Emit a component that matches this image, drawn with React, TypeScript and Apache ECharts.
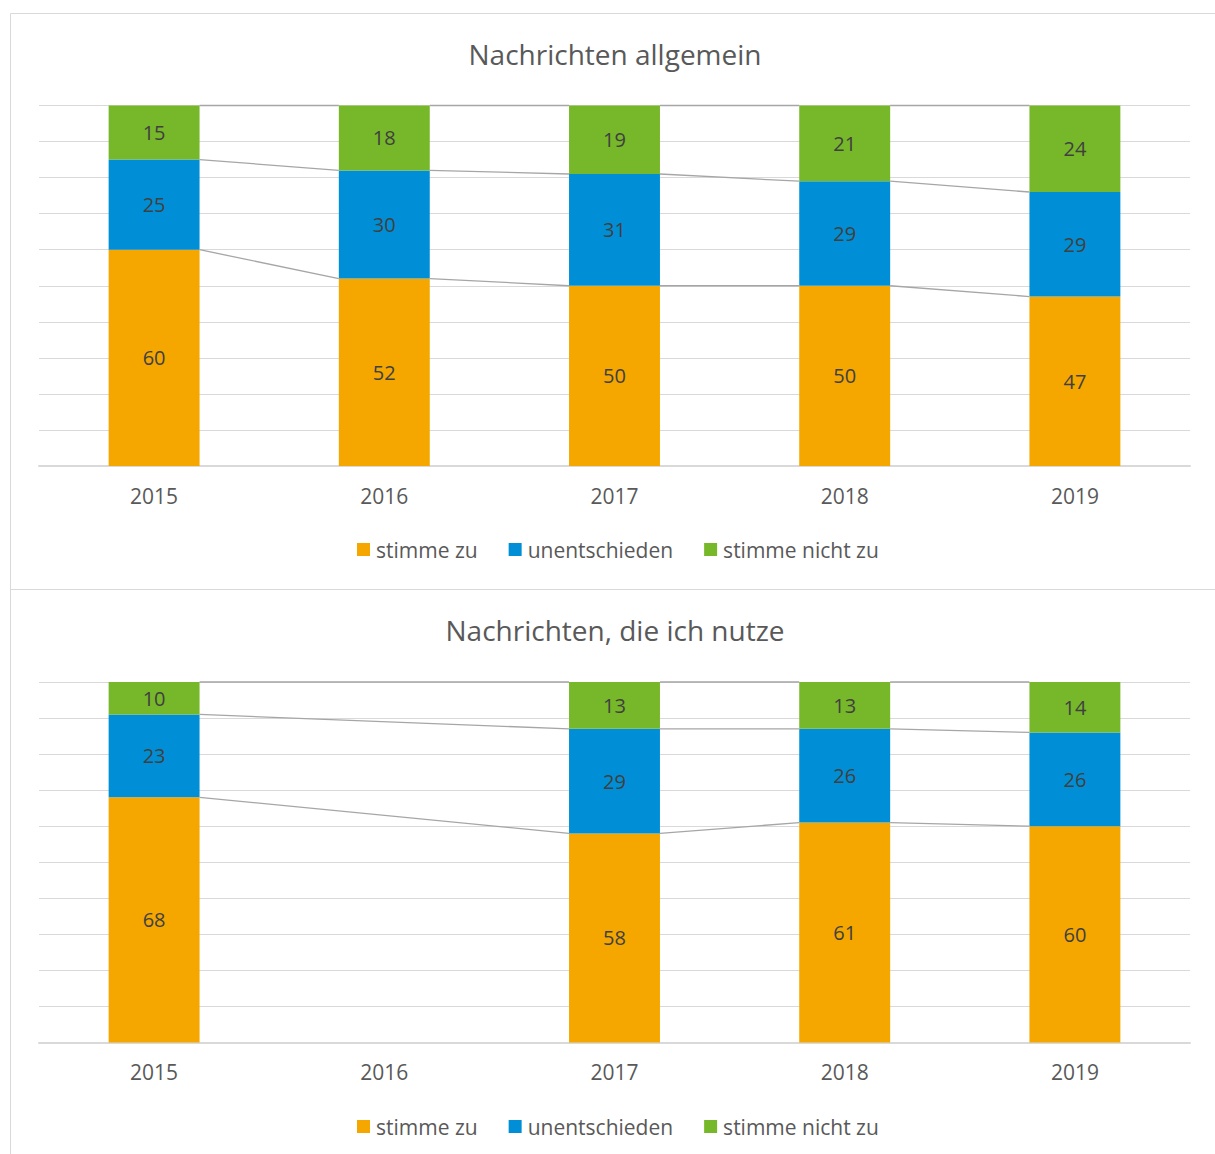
import React, { useEffect, useRef } from "react";
import * as echarts from "echarts";

const years = ["2015", "2016", "2017", "2018", "2019"];
const seriesNames = ["stimme zu", "unentschieden", "stimme nicht zu"];

const allgemeinZu = [60, 52, 50, 50, 47];
const allgemeinUnent = [25, 30, 31, 29, 29];
const allgemeinNicht = [15, 18, 19, 21, 24];

const nutzeZu: (number | null)[] = [68, null, 58, 61, 60];
const nutzeUnent: (number | null)[] = [23, null, 29, 26, 26];
const nutzeNicht: (number | null)[] = [10, null, 13, 13, 14];

const titles = ["Nachrichten allgemein", "Nachrichten, die ich nutze"];
const colors = ["#F5A700", "#008FD6", "#77B82A"];

const FONT = "Open Sans";
const BAR_FRACTION = 0.395;

function seriesLineData(stacks: (number | null)[][]) {
  const avail = years.map((_, i) => i).filter((i) => stacks[0][i] != null);
  const out: number[][] = [];
  for (let k = 0; k < avail.length - 1; k++) {
    const a = avail[k];
    const b = avail[k + 1];
    let ca = 0;
    let cb = 0;
    for (let l = 0; l < stacks.length; l++) {
      ca += stacks[l][a] as number;
      cb += stacks[l][b] as number;
      out.push([a, b, Math.min(ca, 100), Math.min(cb, 100)]);
    }
  }
  return out;
}

export default function App() {
  const ref = useRef<HTMLDivElement>(null);
  useEffect(() => {
    if (!ref.current) return;
    const chart = echarts.init(ref.current, undefined, { renderer: "svg" });
    const stacks = [
      [allgemeinZu, allgemeinUnent, allgemeinNicht],
      [nutzeZu, nutzeUnent, nutzeNicht],
    ];
    const gridTops = [105.5, 682];
    const titleY = [54, 630];
    const legendTop = [539, 1116];

    const series: any[] = [];
    stacks.forEach((st, g) => {
      st.forEach((vals, s) => {
        series.push({
          type: "bar",
          name: seriesNames[s],
          stack: "s" + g,
          xAxisIndex: g,
          yAxisIndex: g,
          barWidth: BAR_FRACTION * 100 + "%",
          data: vals,
          itemStyle: { color: colors[s] },
          label: {
            show: true,
            position: "inside",
            color: "#404040",
            fontSize: 20,
            fontFamily: FONT,
          },
        });
      });
      series.push({
        type: "custom",
        xAxisIndex: g,
        yAxisIndex: g,
        silent: true,
        z: 5,
        clip: false,
        encode: { x: [0, 1], y: [2, 3] },
        data: seriesLineData(st),
        renderItem: (params: any, api: any) => {
          const p1 = api.coord([api.value(0), api.value(2)]);
          const p2 = api.coord([api.value(1), api.value(3)]);
          const half = (api.size([1, 0])[0] * BAR_FRACTION) / 2;
          return {
            type: "line",
            shape: { x1: p1[0] + half, y1: p1[1], x2: p2[0] - half, y2: p2[1] },
            style: { stroke: "#a6a6a6", lineWidth: 1.3 },
          };
        },
      });
    });

    chart.setOption({
      animation: false,
      textStyle: { fontFamily: FONT },
      grid: gridTops.map((t) => ({ left: 39, right: 25, top: t, height: 360.5 })),
      xAxis: gridTops.map((_, g) => ({
        type: "category",
        gridIndex: g,
        data: years,
        axisLine: { lineStyle: { color: "#d9d9d9", width: 2 } },
        axisTick: { show: false },
        axisLabel: { color: "#595959", fontSize: 21, fontFamily: FONT, margin: 19 },
      })),
      yAxis: gridTops.map((_, g) => ({
        type: "value",
        gridIndex: g,
        min: 0,
        max: 100,
        interval: 10,
        axisLabel: { show: false },
        axisLine: { show: false },
        axisTick: { show: false },
        splitLine: { lineStyle: { color: "#d9d9d9", width: 1 } },
      })),
      legend: legendTop.map((t) => ({
        top: t,
        left: 357,
        padding: 0,
        icon: "rect",
        itemWidth: 13,
        itemHeight: 13,
        itemGap: 31,
        selectedMode: false,
        data: seriesNames,
        textStyle: { color: "#595959", fontSize: 21, fontFamily: FONT, padding: [0, 0, 0, 1] },
      })),
      graphic: [
        {
          type: "rect",
          shape: { x: 10.5, y: 13.5, width: 1215, height: 576 },
          style: { fill: "none", stroke: "#d9d9d9", lineWidth: 1 },
          silent: true,
        },
        {
          type: "rect",
          shape: { x: 10.5, y: 589.5, width: 1215, height: 600 },
          style: { fill: "none", stroke: "#d9d9d9", lineWidth: 1 },
          silent: true,
        },
        ...titles.map((t, i) => ({
          type: "text",
          x: 615,
          y: titleY[i],
          silent: true,
          style: {
            text: t,
            align: "center",
            verticalAlign: "middle",
            fontSize: 28,
            fontFamily: FONT,
            fill: "#595959",
          },
        })),
      ],
      series,
    });
    return () => chart.dispose();
  }, []);
  return (
    <div
      ref={ref}
      style={{ position: "absolute", left: 0, top: 0, width: 1215, height: 1154 }}
    />
  );
}
